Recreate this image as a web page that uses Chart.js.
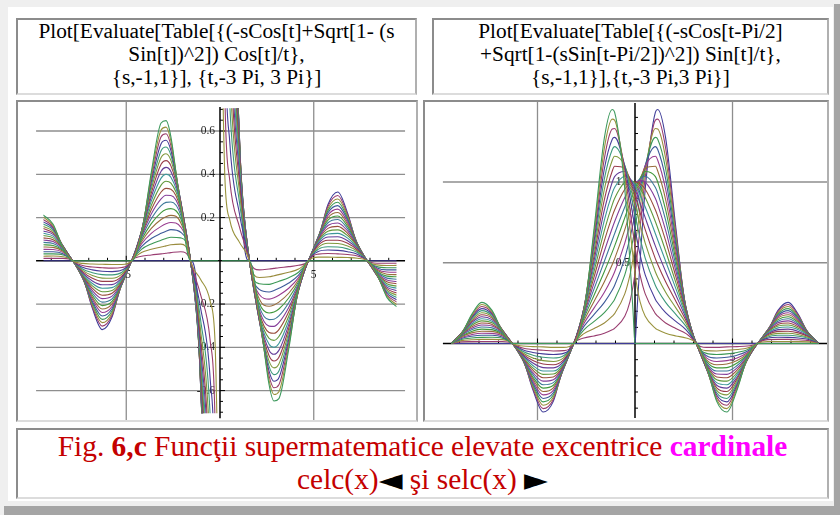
<!DOCTYPE html>
<html>
<head>
<meta charset="utf-8">
<script src="https://cdn.jsdelivr.net/npm/chart.js@4.4.1/dist/chart.umd.min.js"></script>
<style>
  html, body { margin: 0; padding: 0; }
  body { width: 840px; height: 515px; background: #efefef; position: relative; overflow: hidden;
         font-family: "Liberation Serif", "Times New Roman", serif; }
  .abs { position: absolute; box-sizing: border-box; }
  #sheet { left: 8px; top: 7px; width: 825px; height: 494px; background: #fff; }
  #shadowR { left: 834px; top: 4px; width: 6px; height: 511px; background: #a5a5a5; }
  #shadowB { left: 4px; top: 506px; width: 836px; height: 9px; background: #a5a5a5; }
  .cell { border: 2px solid; border-color: #8c8c8c #b0b0b0 #dcdcdc #8c8c8c; background: #fff; }
  .head { font-size: 21.3px; line-height: 22.8px; text-align: center; color: #000; }
  #h1 { left: 16px; top: 18px; width: 401px; height: 77px; }
  #h2 { left: 432px; top: 18px; width: 397px; height: 77px; }
  #p1 { left: 16px; top: 100px; width: 402px; height: 322px; }
  #p2 { left: 423px; top: 100px; width: 406px; height: 322px; }
  #cap { left: 16px; top: 428px; width: 813px; height: 71px; font-size: 29.4px; line-height: 33px;
         text-align: center; color: #c40000; white-space: nowrap; }
  #cap b.m { color: #ff00ff; }
  #cap .tri { color: #000; font-family: "DejaVu Sans", sans-serif; font-size: 31px; line-height: 0;
              position: relative; top: 1px; }
  canvas { position: absolute; left: 0; top: 0; }
</style>
</head>
<body>
<div class="abs" id="shadowR"></div>
<div class="abs" id="shadowB"></div>
<div class="abs" id="sheet"></div>

<div class="abs cell head" id="h1">Plot[Evaluate[Table[{(-sCos[t]+Sqrt[1- (s<br>Sin[t])^2]) Cos[t]/t},<br>{s,-1,1}], {t,-3 Pi, 3 Pi}]</div>
<div class="abs cell head" id="h2">Plot[Evaluate[Table[{(-sCos[t-Pi/2]<br>+Sqrt[1-(sSin[t-Pi/2])^2]) Sin[t]/t},<br>{s,-1,1}],{t,-3 Pi,3 Pi}]</div>

<div class="abs cell" id="p1"><canvas id="celc" width="398" height="318"></canvas></div>
<div class="abs cell" id="p2"><canvas id="selc" width="402" height="318"></canvas></div>

<div class="abs cell" id="cap">Fig. <b>6,c</b> Funcţii supermatematice elevate excentrice <b class="m">cardinale</b><br>celc(x)<span class="tri">◄</span> şi selc(x) <span class="tri">►</span></div>

<script>
// abscissa t, from -3 Pi to 3 Pi (one list per plot)
const celcT = [-9.4248,-8.9012,-8.3776,-7.854,-7.3304,-6.8068,-6.2832,-5.7596,-5.236,-4.7124,-4.1888,-3.6652,-3.1416,-2.8798,-2.618,-2.0944,-1.5708,-1.0472,-0.5236,-0.2618,-0.1,0,0.1,0.2618,0.5236,1.0472,1.5708,2.0944,2.618,2.8798,3.1416,3.6652,4.1888,4.7124,5.236,5.7596,6.2832,6.8068,7.3304,7.854,8.3776,8.9012,9.4248];
const selcT = [-9.4248,-8.9012,-8.3776,-7.854,-7.3304,-6.8068,-6.2832,-5.7596,-5.236,-4.7124,-4.1888,-3.6652,-3.1416,-2.618,-2.0944,-1.5708,-1.1656,-1.0472,-0.5236,-0.2618,-0.1,0,0.1,0.2618,0.5236,1.0472,1.1656,1.5708,2.0944,2.618,3.1416,3.6652,4.1888,4.7124,5.236,5.7596,6.2832,6.8068,7.3304,7.854,8.3776,8.9012,9.4248];
const sValues = [-1,-0.9,-0.8,-0.7,-0.6,-0.5,-0.4,-0.3,-0.2,-0.1,0,0.1,0.2,0.3,0.4,0.5,0.6,0.7,0.8,0.9,1];

// celc(t), one array per s
const celc_n10 = [0,0,0,0,-.068,-.22,-.318,-.26,-.095,0,0,0,0,0,0,0,0,-.477,-2.865,-7.128,-19.8,null,19.8,7.128,2.865,.477,0,0,0,0,0,0,0,0,.095,.26,.318,.22,.068,0,0,0,0];
const celc_n09 = [.011,.011,.011,0,-.073,-.213,-.302,-.252,-.103,0,.021,.027,.032,.035,.038,.042,0,-.514,-2.766,-6.796,-18.82,null,18.82,6.796,2.766,.514,0,-.042,-.038,-.035,-.032,-.027,-.021,0,.103,.252,.302,.213,.073,0,-.011,-.011,-.011];
const celc_n08 = [.021,.022,.019,0,-.077,-.205,-.286,-.242,-.107,0,.038,.053,.064,.069,.074,.077,0,-.535,-2.662,-6.461,-17.84,null,17.84,6.461,2.662,.535,0,-.077,-.074,-.069,-.064,-.053,-.038,0,.107,.242,.286,.205,.077,0,-.019,-.022,-.021];
const celc_n07 = [.032,.032,.027,0,-.078,-.196,-.271,-.232,-.109,0,.053,.078,.095,.103,.109,.106,0,-.547,-2.552,-6.123,-16.86,null,16.86,6.123,2.552,.547,0,-.106,-.109,-.103,-.095,-.078,-.053,0,.109,.232,.271,.196,.078,0,-.027,-.032,-.032];
const celc_n06 = [.042,.042,.033,0,-.079,-.188,-.255,-.222,-.11,0,.066,.103,.127,.137,.144,.132,0,-.551,-2.437,-5.783,-15.87,null,15.87,5.783,2.437,.551,0,-.132,-.144,-.137,-.127,-.103,-.066,0,.11,.222,.255,.188,.079,0,-.033,-.042,-.042];
const celc_n05 = [.053,.052,.039,0,-.079,-.178,-.239,-.211,-.11,0,.078,.127,.159,.171,.177,.156,0,-.55,-2.318,-5.441,-14.89,null,14.89,5.441,2.318,.55,0,-.156,-.177,-.171,-.159,-.127,-.078,0,.11,.211,.239,.178,.079,0,-.039,-.052,-.053];
const celc_n04 = [.064,.062,.044,0,-.078,-.169,-.223,-.199,-.109,0,.088,.15,.191,.204,.21,.176,0,-.543,-2.194,-5.095,-13.9,null,13.9,5.095,2.194,.543,0,-.176,-.21,-.204,-.191,-.15,-.088,0,.109,.199,.223,.169,.078,0,-.044,-.062,-.064];
const celc_n03 = [.074,.071,.049,0,-.076,-.159,-.207,-.188,-.107,0,.097,.172,.223,.237,.241,.195,0,-.533,-2.065,-4.748,-12.92,null,12.92,4.748,2.065,.533,0,-.195,-.241,-.237,-.223,-.172,-.097,0,.107,.188,.207,.159,.076,0,-.049,-.071,-.074];
const celc_n02 = [.085,.08,.053,0,-.074,-.149,-.191,-.176,-.104,0,.106,.194,.255,.27,.272,.211,0,-.518,-1.932,-4.397,-11.93,null,11.93,4.397,1.932,.518,0,-.211,-.272,-.27,-.255,-.194,-.106,0,.104,.176,.191,.149,.074,0,-.053,-.08,-.085];
const celc_n01 = [.096,.089,.057,0,-.071,-.138,-.175,-.163,-.1,0,.113,.216,.286,.303,.302,.226,0,-.5,-1.795,-4.045,-10.94,null,10.94,4.045,1.795,.5,0,-.226,-.302,-.303,-.286,-.216,-.113,0,.1,.163,.175,.138,.071,0,-.057,-.089,-.096];
const celc_0   = [.106,.097,.06,0,-.068,-.127,-.159,-.15,-.095,0,.119,.236,.318,.335,.331,.239,0,-.477,-1.654,-3.69,-9.95,null,9.95,3.69,1.654,.477,0,-.239,-.331,-.335,-.318,-.236,-.119,0,.095,.15,.159,.127,.068,0,-.06,-.097,-.106];
const celc_p01 = [.117,.106,.062,0,-.065,-.116,-.143,-.137,-.09,0,.125,.256,.35,.368,.359,.25,0,-.452,-1.509,-3.332,-8.96,null,8.96,3.332,1.509,.452,0,-.25,-.359,-.368,-.35,-.256,-.125,0,.09,.137,.143,.116,.065,0,-.062,-.106,-.117];
const celc_p02 = [.127,.114,.065,0,-.06,-.105,-.127,-.124,-.085,0,.13,.276,.382,.4,.386,.259,0,-.423,-1.359,-2.972,-7.97,null,7.97,2.972,1.359,.423,0,-.259,-.386,-.4,-.382,-.276,-.13,0,.085,.124,.127,.105,.06,0,-.065,-.114,-.127];
const celc_p03 = [.138,.122,.067,0,-.056,-.093,-.111,-.11,-.078,0,.133,.295,.414,.432,.413,.266,0,-.389,-1.206,-2.609,-6.98,null,6.98,2.609,1.206,.389,0,-.266,-.413,-.432,-.414,-.295,-.133,0,.078,.11,.111,.093,.056,0,-.067,-.122,-.138];
const celc_p04 = [.149,.129,.068,0,-.05,-.081,-.095,-.095,-.071,0,.136,.313,.446,.463,.439,.272,0,-.352,-1.048,-2.244,-5.98,null,5.98,2.244,1.048,.352,0,-.272,-.439,-.463,-.446,-.313,-.136,0,.071,.095,.095,.081,.05,0,-.068,-.129,-.149];
const celc_p05 = [.159,.136,.069,0,-.044,-.068,-.08,-.081,-.062,0,.137,.331,.477,.495,.464,.275,0,-.311,-.885,-1.877,-4.99,null,4.99,1.877,.885,.311,0,-.275,-.464,-.495,-.477,-.331,-.137,0,.062,.081,.08,.068,.044,0,-.069,-.136,-.159];
const celc_p06 = [.17,.143,.069,0,-.038,-.055,-.064,-.065,-.053,0,.138,.348,.509,.526,.488,.276,0,-.265,-.718,-1.506,-3.99,null,3.99,1.506,.718,.265,0,-.276,-.488,-.526,-.509,-.348,-.138,0,.053,.065,.064,.055,.038,0,-.069,-.143,-.17];
const celc_p07 = [.18,.15,.068,0,-.03,-.042,-.048,-.05,-.043,0,.137,.365,.541,.557,.51,.273,0,-.213,-.547,-1.134,-3,null,3,1.134,.547,.213,0,-.273,-.51,-.557,-.541,-.365,-.137,0,.043,.05,.048,.042,.03,0,-.068,-.15,-.18];
const celc_p08 = [.191,.157,.067,0,-.022,-.029,-.032,-.034,-.031,0,.134,.38,.573,.587,.532,.268,0,-.153,-.37,-.759,-2,null,2,.759,.37,.153,0,-.268,-.532,-.587,-.573,-.38,-.134,0,.031,.034,.032,.029,.022,0,-.067,-.157,-.191];
const celc_p09 = [.202,.163,.064,0,-.012,-.015,-.016,-.017,-.017,0,.129,.395,.605,.618,.553,.257,0,-.084,-.188,-.381,-1,null,1,.381,.188,.084,0,-.257,-.553,-.618,-.605,-.395,-.129,0,.017,.017,.016,.015,.012,0,-.064,-.163,-.202];
const celc_p10 = [.212,.169,.06,0,0,0,0,0,0,0,.119,.409,.637,.648,.573,.239,0,0,0,0,0,null,0,0,0,0,0,-.239,-.573,-.648,-.637,-.409,-.119,0,0,0,0,0,0,0,-.06,-.169,-.212];

// selc(t), one array per s
const selc_n10 = [0,0,0,0,0,0,0,-.087,-.287,-.424,-.358,-.136,0,0,0,0,0,0,0,0,0,0,.199,.512,.955,1.432,1.449,1.273,.716,.191,0,0,0,0,0,0,0,.074,.205,.255,.179,.056,0];
const selc_n09 = [0,.01,.012,.013,.013,.013,0,-.094,-.277,-.403,-.346,-.147,0,.034,.047,.064,.085,.094,.169,.258,.355,.436,.534,.719,1.028,1.383,1.389,1.21,.692,.206,0,-.024,-.024,-.021,-.019,-.015,0,.079,.198,.242,.173,.061,0];
const selc_n08 = [0,.018,.023,.026,.026,.024,0,-.097,-.266,-.382,-.333,-.153,0,.061,.093,.127,.169,.185,.307,.423,.525,.6,.684,.832,1.071,1.331,1.328,1.146,.666,.214,0,-.044,-.046,-.042,-.037,-.028,0,.082,.19,.229,.166,.063,0];
const selc_n07 = [0,.025,.034,.038,.039,.033,0,-.099,-.255,-.361,-.319,-.156,0,.085,.137,.191,.251,.273,.425,.549,.647,.714,.786,.908,1.094,1.276,1.265,1.082,.638,.219,0,-.061,-.068,-.064,-.055,-.039,0,.084,.182,.216,.16,.064,0];
const selc_n06 = [0,.031,.045,.051,.051,.041,0,-.1,-.244,-.34,-.305,-.158,0,.106,.18,.255,.331,.359,.529,.652,.741,.8,.861,.959,1.102,1.219,1.201,1.019,.609,.221,0,-.076,-.09,-.085,-.072,-.048,0,.085,.174,.204,.152,.065,0];
const selc_n05 = [0,.037,.055,.064,.063,.048,0,-.1,-.232,-.318,-.29,-.157,0,.124,.221,.318,.411,.443,.622,.738,.816,.866,.916,.994,1.1,1.159,1.135,.955,.579,.22,0,-.089,-.111,-.106,-.089,-.057,0,.085,.166,.191,.145,.065,0];
const selc_n04 = [0,.042,.066,.076,.075,.054,0,-.099,-.219,-.297,-.274,-.155,0,.141,.262,.382,.489,.524,.705,.81,.876,.917,.956,1.014,1.087,1.097,1.068,.891,.548,.217,0,-.101,-.131,-.127,-.105,-.064,0,.084,.157,.178,.137,.064,0];
const selc_n03 = [0,.046,.075,.089,.086,.06,0,-.097,-.207,-.276,-.258,-.152,0,.156,.301,.446,.566,.603,.779,.869,.923,.954,.983,1.023,1.065,1.033,1.0,.828,.516,.213,0,-.111,-.151,-.149,-.121,-.071,0,.082,.148,.166,.129,.063,0];
const selc_n02 = [0,.05,.085,.102,.097,.065,0,-.094,-.193,-.255,-.242,-.148,0,.169,.34,.509,.641,.68,.845,.919,.958,.98,.998,1.021,1.036,.966,.931,.764,.483,.207,0,-.121,-.17,-.17,-.136,-.077,0,.08,.138,.153,.121,.061,0];
const selc_n01 = [0,.053,.094,.115,.108,.07,0,-.091,-.18,-.233,-.224,-.143,0,.181,.377,.573,.715,.754,.904,.958,.983,.995,1.003,1.01,.999,.898,.86,.7,.449,.2,0,-.129,-.189,-.191,-.151,-.082,0,.077,.128,.14,.112,.059,0];
const selc_0   = [0,.056,.103,.127,.118,.074,0,-.087,-.165,-.212,-.207,-.136,0,.191,.414,.637,.789,.827,.955,.989,.998,1,.998,.989,.955,.827,.789,.637,.414,.191,0,-.136,-.207,-.212,-.165,-.087,0,.074,.118,.127,.103,.056,0];
const selc_p01 = [0,.059,.112,.14,.128,.077,0,-.082,-.151,-.191,-.189,-.129,0,.2,.449,.7,.86,.898,.999,1.01,1.003,.995,.983,.958,.904,.754,.715,.573,.377,.181,0,-.143,-.224,-.233,-.18,-.091,0,.07,.108,.115,.094,.053,0];
const selc_p02 = [0,.061,.121,.153,.138,.08,0,-.077,-.136,-.17,-.17,-.121,0,.207,.483,.764,.931,.966,1.036,1.021,.998,.98,.958,.919,.845,.68,.641,.509,.34,.169,0,-.148,-.242,-.255,-.193,-.094,0,.065,.097,.102,.085,.05,0];
const selc_p03 = [0,.063,.129,.166,.148,.082,0,-.071,-.121,-.149,-.151,-.111,0,.213,.516,.828,1.0,1.033,1.065,1.023,.983,.954,.923,.869,.779,.603,.566,.446,.301,.156,0,-.152,-.258,-.276,-.207,-.097,0,.06,.086,.089,.075,.046,0];
const selc_p04 = [0,.064,.137,.178,.157,.084,0,-.064,-.105,-.127,-.131,-.101,0,.217,.548,.891,1.068,1.097,1.087,1.014,.956,.917,.876,.81,.705,.524,.489,.382,.262,.141,0,-.155,-.274,-.297,-.219,-.099,0,.054,.075,.076,.066,.042,0];
const selc_p05 = [0,.065,.145,.191,.166,.085,0,-.057,-.089,-.106,-.111,-.089,0,.22,.579,.955,1.135,1.159,1.1,.994,.916,.866,.816,.738,.622,.443,.411,.318,.221,.124,0,-.157,-.29,-.318,-.232,-.1,0,.048,.063,.064,.055,.037,0];
const selc_p06 = [0,.065,.152,.204,.174,.085,0,-.048,-.072,-.085,-.09,-.076,0,.221,.609,1.019,1.201,1.219,1.102,.959,.861,.8,.741,.652,.529,.359,.331,.255,.18,.106,0,-.158,-.305,-.34,-.244,-.1,0,.041,.051,.051,.045,.031,0];
const selc_p07 = [0,.064,.16,.216,.182,.084,0,-.039,-.055,-.064,-.068,-.061,0,.219,.638,1.082,1.265,1.276,1.094,.908,.786,.714,.647,.549,.425,.273,.251,.191,.137,.085,0,-.156,-.319,-.361,-.255,-.099,0,.033,.039,.038,.034,.025,0];
const selc_p08 = [0,.063,.166,.229,.19,.082,0,-.028,-.037,-.042,-.046,-.044,0,.214,.666,1.146,1.328,1.331,1.071,.832,.684,.6,.525,.423,.307,.185,.169,.127,.093,.061,0,-.153,-.333,-.382,-.266,-.097,0,.024,.026,.026,.023,.018,0];
const selc_p09 = [0,.061,.173,.242,.198,.079,0,-.015,-.019,-.021,-.024,-.024,0,.206,.692,1.21,1.389,1.383,1.028,.719,.534,.436,.355,.258,.169,.094,.085,.064,.047,.034,0,-.147,-.346,-.403,-.277,-.094,0,.013,.013,.013,.012,.01,0];
const selc_p10 = [0,.056,.179,.255,.205,.074,0,0,0,0,0,0,0,.191,.716,1.273,1.449,1.432,.955,.512,.199,0,0,0,0,0,0,0,0,0,0,-.136,-.358,-.424,-.287,-.087,0,0,0,0,0,0,0];

// grid lines and tick labels
const celcGridY = [-0.6, -0.4, -0.2, 0.2, 0.4, 0.6];
const selcGridY = [0.5, 1.0];
const gridX = [-5, 5];
const xTickLabels = [-5, 5];

const celcCurves = [celc_n10, celc_n09, celc_n08, celc_n07, celc_n06, celc_n05, celc_n04, celc_n03, celc_n02, celc_n01, celc_0,
                    celc_p01, celc_p02, celc_p03, celc_p04, celc_p05, celc_p06, celc_p07, celc_p08, celc_p09, celc_p10];
const selcCurves = [selc_n10, selc_n09, selc_n08, selc_n07, selc_n06, selc_n05, selc_n04, selc_n03, selc_n02, selc_n01, selc_0,
                    selc_p01, selc_p02, selc_p03, selc_p04, selc_p05, selc_p06, selc_p07, selc_p08, selc_p09, selc_p10];

// old Mathematica default plot colours: Hue[0.67 + n*0.236068, 0.6, 0.6]
function mmaColor(n) {
  const h = ((0.67 + 0.236068 * n) % 1) * 6, s = 0.6, v = 0.6;
  const i = Math.floor(h), f = h - i;
  const p = v * (1 - s), q = v * (1 - s * f), t = v * (1 - s * (1 - f));
  const rgb = [[v, t, p], [q, v, p], [p, v, t], [p, q, v], [t, p, v], [v, p, q]][i % 6];
  return 'rgb(' + rgb.map(c => Math.round(c * 255)).join(',') + ')';
}

// axes in the middle of the plot, drawn under the curves
const mmaAxes = {
  id: 'mmaAxes',
  beforeDatasetsDraw(chart, args, o) {
    const ctx = chart.ctx, xs = chart.scales.x, ys = chart.scales.y;
    const X = v => xs.getPixelForValue(v), Y = v => ys.getPixelForValue(v);
    const seg = (x1, y1, x2, y2) => { ctx.beginPath(); ctx.moveTo(x1, y1); ctx.lineTo(x2, y2); ctx.stroke(); };
    ctx.save();
    ctx.strokeStyle = '#8e8e8e';
    ctx.lineWidth = 1.3;
    o.gridY.forEach(v => seg(X(o.xFrom), Y(v), X(o.xTo), Y(v)));
    o.gridX.forEach(v => seg(X(v), 0, X(v), chart.height));

    ctx.fillStyle = '#222';
    ctx.font = '11.5px "Liberation Serif"';
    ctx.textAlign = 'right';
    ctx.textBaseline = 'middle';
    o.yLabels.forEach(v => ctx.fillText(v.toFixed(1), X(0) - 5, Y(v)));
    ctx.textAlign = 'center';
    o.xLabels.forEach(v => ctx.fillText(String(v), X(v), Y(0) + 14));

    ctx.strokeStyle = '#000';
    ctx.lineWidth = 1.5;
    seg(X(o.xFrom), Y(0), X(o.xTo), Y(0));
    seg(X(0), Y(o.yTo), X(0), Y(o.yFrom));
    ctx.lineWidth = 1;
    for (let k = -9; k <= 9; k++) {
      if (k === 0) continue;
      seg(X(k), Y(0), X(k), Y(0) - (k % 5 === 0 ? 5 : 3));
    }
    const k0 = Math.ceil(o.yFrom / o.yStep), k1 = Math.floor(o.yTo / o.yStep);
    for (let k = k0; k <= k1; k++) {
      if (k === 0) continue;
      seg(X(0), Y(k * o.yStep), X(0) + (k % o.yMajor === 0 ? 5 : 3), Y(k * o.yStep));
    }
    ctx.restore();
  }
};

function makePlot(id, tList, curves, pad, yMin, yMax, axes) {
  new Chart(document.getElementById(id), {
    type: 'line',
    data: {
      datasets: curves.map((ys, n) => ({
        label: 's = ' + sValues[n],
        data: tList.map((t, k) => ({ x: t, y: ys[k] })),
        borderColor: mmaColor(n),
        borderWidth: 1.1,
        pointRadius: 0,
        cubicInterpolationMode: 'monotone',
        spanGaps: false,
        order: curves.length - n
      }))
    },
    options: {
      responsive: false,
      animation: false,
      events: [],
      layout: { padding: pad },
      plugins: { legend: { display: false }, tooltip: { enabled: false }, mmaAxes: axes },
      scales: {
        x: { type: 'linear', min: -9.4248, max: 9.4248, display: false },
        y: { type: 'linear', min: yMin, max: yMax, display: false }
      }
    },
    plugins: [mmaAxes]
  });
}

makePlot('celc', celcT, celcCurves, { left: 25.3, right: 19.3, top: 6.3, bottom: 6.7 }, -0.705, 0.705, {
  gridY: celcGridY, gridX: gridX, yLabels: celcGridY, xLabels: xTickLabels,
  xFrom: -9.81, xTo: 9.87, yFrom: -0.728, yTo: 0.711, yStep: 0.05, yMajor: 4
});
makePlot('selc', selcT, selcCurves, { left: 26.2, right: 8.2, top: 1, bottom: 2 }, -0.461, 1.489, {
  gridY: selcGridY, gridX: gridX, yLabels: selcGridY, xLabels: xTickLabels,
  xFrom: -9.85, xTo: 9.95, yFrom: -0.461, yTo: 1.489, yStep: 0.1, yMajor: 5
});
</script>
</body>
</html>
